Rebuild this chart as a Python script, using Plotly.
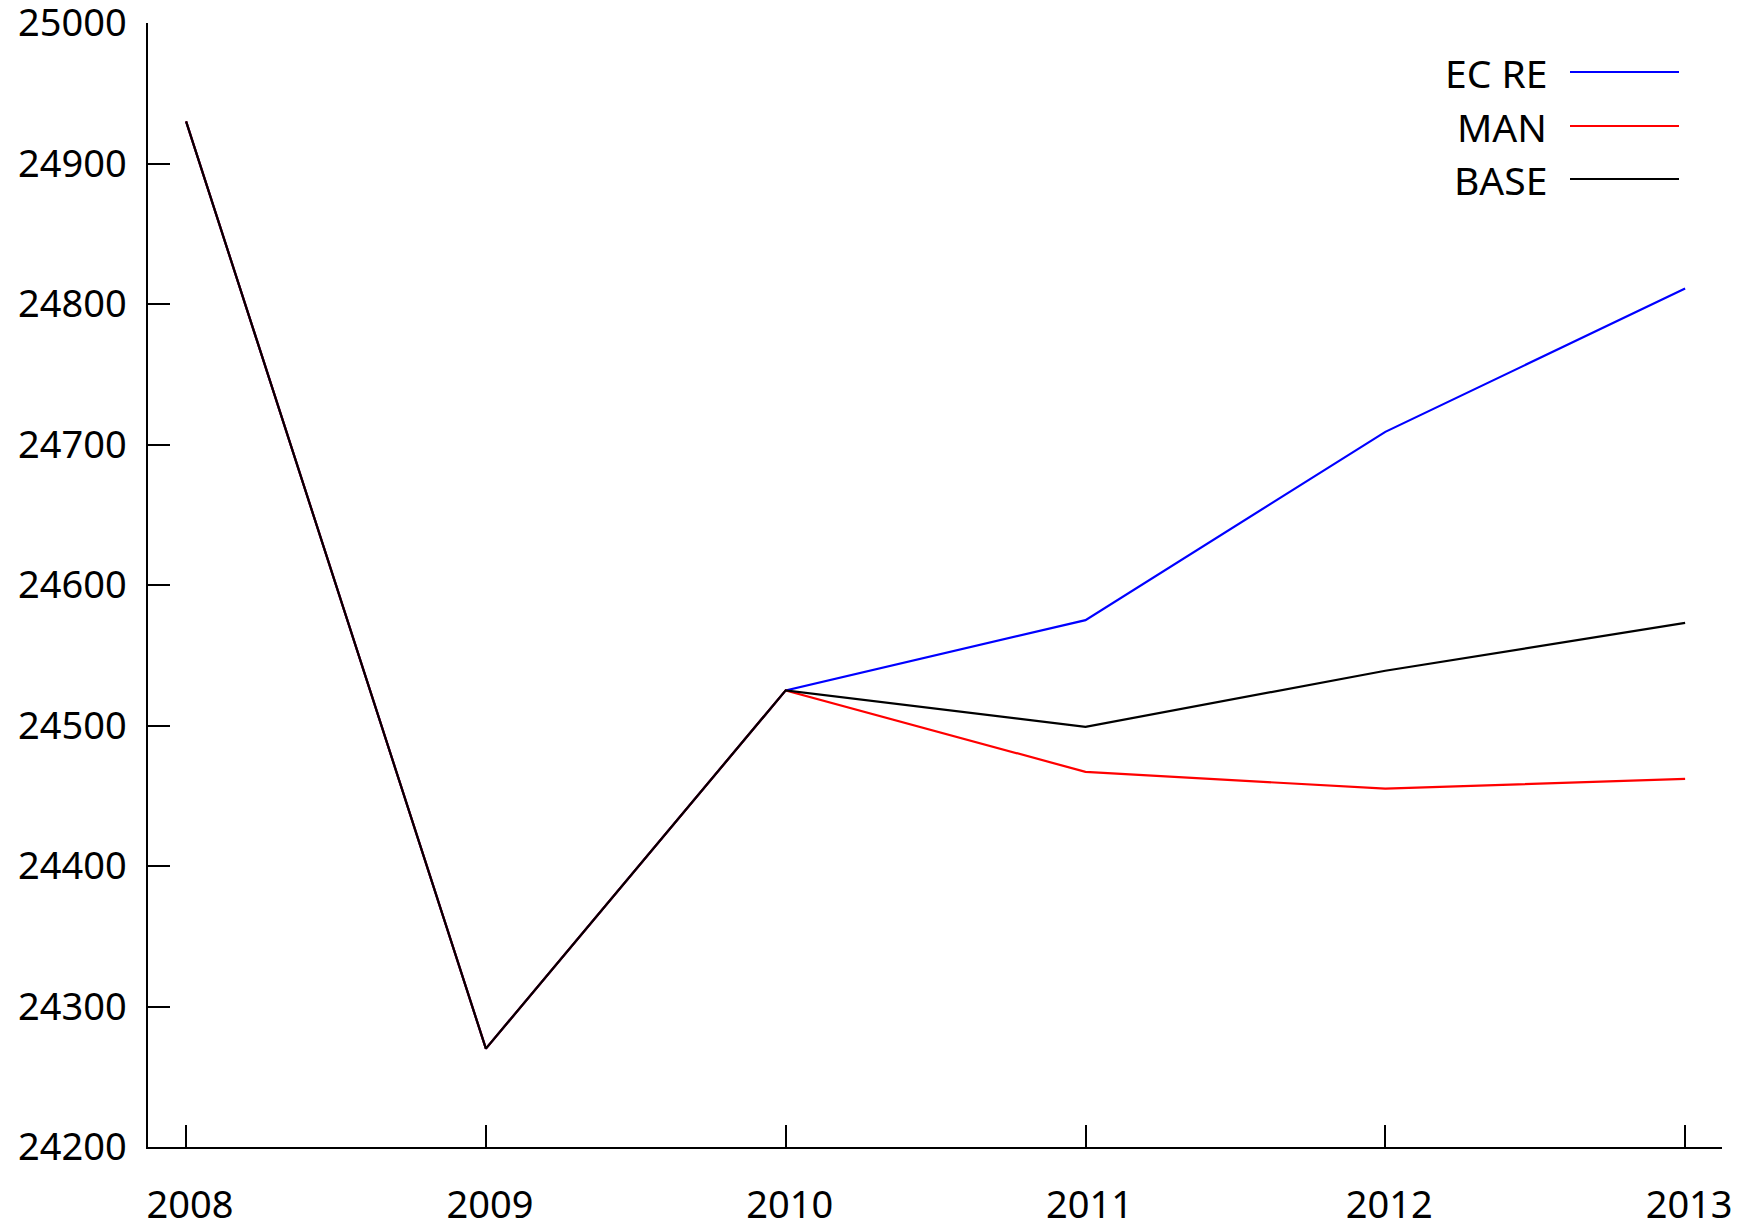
import plotly.graph_objects as go

years = [2008, 2009, 2010, 2011, 2012, 2013]
ec_re = [24930, 24270, 24525, 24575, 24709, 24811]
man = [24930, 24270, 24525, 24467, 24455, 24462]
base = [24930, 24270, 24525, 24499, 24539, 24573]

series_names = ["EC RE", "MAN", "BASE"]
series_colors = ["#0000ff", "#ff0000", "#000000"]
y_ticks = [24200, 24300, 24400, 24500, 24600, 24700, 24800, 24900, 25000]

# page has an 8px body margin, so the figure is sized/offset to compensate
OFF = 8
W, H = 1747 - OFF, 1226 - OFF
ML, MR, MT, MB = 148 - OFF, 25, 23 - OFF, 79
FONT = "Noto Sans"

fig = go.Figure()
for name, vals, col in zip(series_names, [ec_re, man, base], series_colors):
    fig.add_trace(go.Scatter(x=years, y=vals, mode="lines", name=name,
                             line=dict(color=col, width=2.2), showlegend=False))

# manual legend (text on the left, line sample on the right)
pw = W - ML - MR
ph = H - MT - MB
def px_x(p):
    return (p - OFF - ML) / pw
def px_y(p):
    return (H - MB - (p - OFF)) / ph

leg_y = [72, 126, 179]
for name, col, yy in zip(series_names, series_colors, leg_y):
    fig.add_annotation(x=px_x(1549), y=px_y(yy), xref="paper", yref="paper",
                       text=name, showarrow=False, xanchor="right", yanchor="middle",
                       font=dict(family=FONT, size=39, color="#000000"))
    fig.add_shape(type="line", xref="paper", yref="paper",
                  x0=px_x(1570), x1=px_x(1679), y0=px_y(yy), y1=px_y(yy),
                  line=dict(color=col, width=2))

fig.update_layout(
    width=W, height=H,
    margin=dict(l=ML, r=MR, t=MT, b=MB, pad=0, autoexpand=False),
    paper_bgcolor="white", plot_bgcolor="white",
    font=dict(family=FONT, size=38, color="#000000"),
    xaxis=dict(range=[2007.873, 2013.123], tickvals=years,
               ticktext=[str(y) for y in years], automargin=False,
               showgrid=False, zeroline=False, showline=True, linecolor="#000000",
               linewidth=1.5, ticks="inside", ticklen=22, tickwidth=1.5,
               tickcolor="#000000", ticklabelstandoff=24, ticklabelshift=4,
               ticklabeloverflow="allow"),
    yaxis=dict(range=[24200, 25000], tickvals=y_ticks,
               ticktext=[str(v) for v in y_ticks], automargin=False,
               showgrid=False, zeroline=False, showline=True, linecolor="#000000",
               linewidth=1.5, ticks="inside", ticklen=22, tickwidth=1.5,
               tickcolor="#000000", ticklabelstandoff=12, ticklabeloverflow="allow"),
)

fig.write_html("out.html")
